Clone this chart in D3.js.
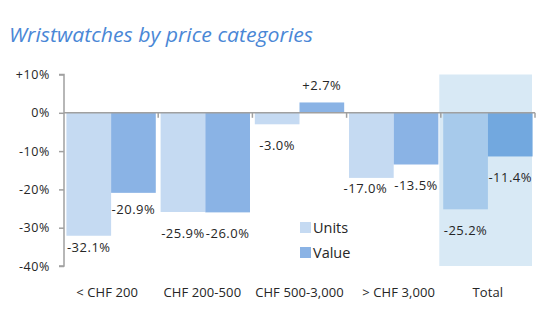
<!DOCTYPE html>
<html>
<head>
<meta charset="utf-8">
<script src="https://cdn.jsdelivr.net/npm/d3@7"></script>
<style>
  html, body { margin: 0; padding: 0; background: #fff; }
  svg { display: block; }
  text { font-family: "Open Sans", "DejaVu Sans", sans-serif; }
</style>
</head>
<body>
<div id="chart"></div>
<script>
// Year-on-year change of Swiss wristwatch exports, by price band
const categories = ["< CHF 200", "CHF 200-500", "CHF 500-3,000", "> CHF 3,000", "Total"];
const seriesNames = ["Units", "Value"];
const units = [-32.1, -25.9, -3.0, -17.0, -25.2];
const value = [-20.9, -26.0, 2.7, -13.5, -11.4];
const yTicks = [10, 0, -10, -20, -30, -40];
const yTickLabels = ["+10%", "0%", "-10%", "-20%", "-30%", "-40%"];

const W = 559, H = 332;
const margin = { left: 64, right: 24, top: 74.5, bottom: 66 };

const colors = {
  Units: "#c5daf2",
  Value: "#8ab3e5",
  UnitsTotal: "#a7caeb",
  ValueTotal: "#72a8df",
  highlight: "#d8e9f5",
  axis: "#a0a0a0",
  text: "#262626",
  title: "#4a87d6"
};

const svg = d3.select("#chart").append("svg")
  .attr("width", W).attr("height", H);

const x = d3.scaleBand()
  .domain(categories)
  .range([margin.left, 535])
  .paddingInner(0).paddingOuter(0);

const x1 = d3.scaleBand()
  .domain(seriesNames)
  .range([0, x.bandwidth()])
  .paddingInner(0)
  .paddingOuter(0.054);

const y = d3.scaleLinear()
  .domain([-40, 10])
  .range([H - margin.bottom, margin.top]);

// Title
svg.append("text")
  .attr("x", 9).attr("y", 42)
  .attr("font-size", 19.5)
  .attr("font-style", "italic")
  .attr("fill", colors.title)
  .attr("textLength", 304)
  .attr("lengthAdjust", "spacingAndGlyphs")
  .text("Wristwatches by price categories");

// Shaded background behind the total group
svg.append("rect")
  .attr("x", x("Total") - 1.5)
  .attr("y", y(10))
  .attr("width", x.bandwidth() - 1.5)
  .attr("height", y(-40) - y(10))
  .attr("fill", colors.highlight);

const rows = categories.map((c, i) => ({ cat: c, vals: [
  { s: "Units", v: units[i] },
  { s: "Value", v: value[i] }
]}));

// Bars
const g = svg.append("g");
rows.forEach(r => {
  r.vals.forEach(d => {
    const total = r.cat === "Total";
    g.append("rect")
      .attr("x", x(r.cat) + x1(d.s))
      .attr("width", x1.bandwidth())
      .attr("y", y(Math.max(0, d.v)))
      .attr("height", Math.abs(y(d.v) - y(0)))
      .attr("fill", total ? colors[d.s + "Total"] : colors[d.s]);
  });
});

// Y axis
const yAxis = d3.axisLeft(y)
  .tickValues(yTicks)
  .tickSize(5)
  .tickPadding(9)
  .tickFormat((d, i) => yTickLabels[i]);
const ya = svg.append("g")
  .attr("transform", `translate(${margin.left},0)`)
  .call(yAxis);
ya.select(".domain").attr("stroke", colors.axis).attr("stroke-width", 1.5)
  .attr("d", `M-5,${y(10)}H0V${y(-40)}H-5`);
ya.selectAll(".tick line").attr("stroke", colors.axis).attr("stroke-width", 1.5);
ya.selectAll(".tick text")
  .attr("font-size", 12.5)
  .attr("fill", colors.text)
  .attr("letter-spacing", "0.6");

// Zero line with category ticks
const xa = svg.append("g");
xa.append("line")
  .attr("x1", margin.left).attr("x2", 535)
  .attr("y1", y(0)).attr("y2", y(0))
  .attr("stroke", colors.axis).attr("stroke-width", 1.5);
categories.forEach(c => {
  const px = x(c) + x.bandwidth();
  xa.append("line")
    .attr("x1", px).attr("x2", px)
    .attr("y1", y(0)).attr("y2", y(0) + 5)
    .attr("stroke", colors.axis).attr("stroke-width", 1.5);
});

// Category labels
svg.append("g").selectAll("text")
  .data(categories)
  .join("text")
  .attr("x", d => x(d) + x.bandwidth() / 2 - (d === "< CHF 200" ? 4 : d === "> CHF 3,000" ? -5 : d === "CHF 200-500" ? 3 : 0))
  .attr("y", 297)
  .attr("text-anchor", "middle")
  .attr("font-size", 13)
  .attr("fill", colors.text)
  .attr("letter-spacing", "0.1")
  .text(d => d);

// Value labels: below negative bars, above positive ones
const fmt = v => (v > 0 ? "+" : "") + v.toFixed(1) + "%";
const nudge = { "Units|< CHF 200": -9, "Value|< CHF 200": -4, "Units|> CHF 3,000": -10.5 };
const nudgeX = { "Units|> CHF 3,000": -6 };
rows.forEach(r => {
  r.vals.forEach(d => {
    const key = d.s + "|" + r.cat;
    const cx = x(r.cat) + x1(d.s) + x1.bandwidth() / 2 + (nudgeX[key] || 0);
    const cy = d.v < 0 ? y(d.v) + 21 + (nudge[key] || 0) : y(d.v) - 17;
    svg.append("text")
      .attr("x", cx).attr("y", cy)
      .attr("dy", "0.35em")
      .attr("text-anchor", "middle")
      .attr("font-size", 13)
      .attr("fill", colors.text)
      .attr("letter-spacing", "0.5")
      .text(fmt(d.v));
  });
});

// Legend
const leg = svg.append("g").attr("transform", "translate(300,222)");
seriesNames.forEach((s, i) => {
  const row = leg.append("g").attr("transform", `translate(0,${i * 25})`);
  row.append("rect").attr("width", 11).attr("height", 11).attr("fill", colors[s]);
  row.append("text")
    .attr("x", 13).attr("y", 5.5).attr("dy", "0.36em")
    .attr("font-size", 14.5)
    .attr("fill", colors.text)
    .text(s);
});
</script>
</body>
</html>
